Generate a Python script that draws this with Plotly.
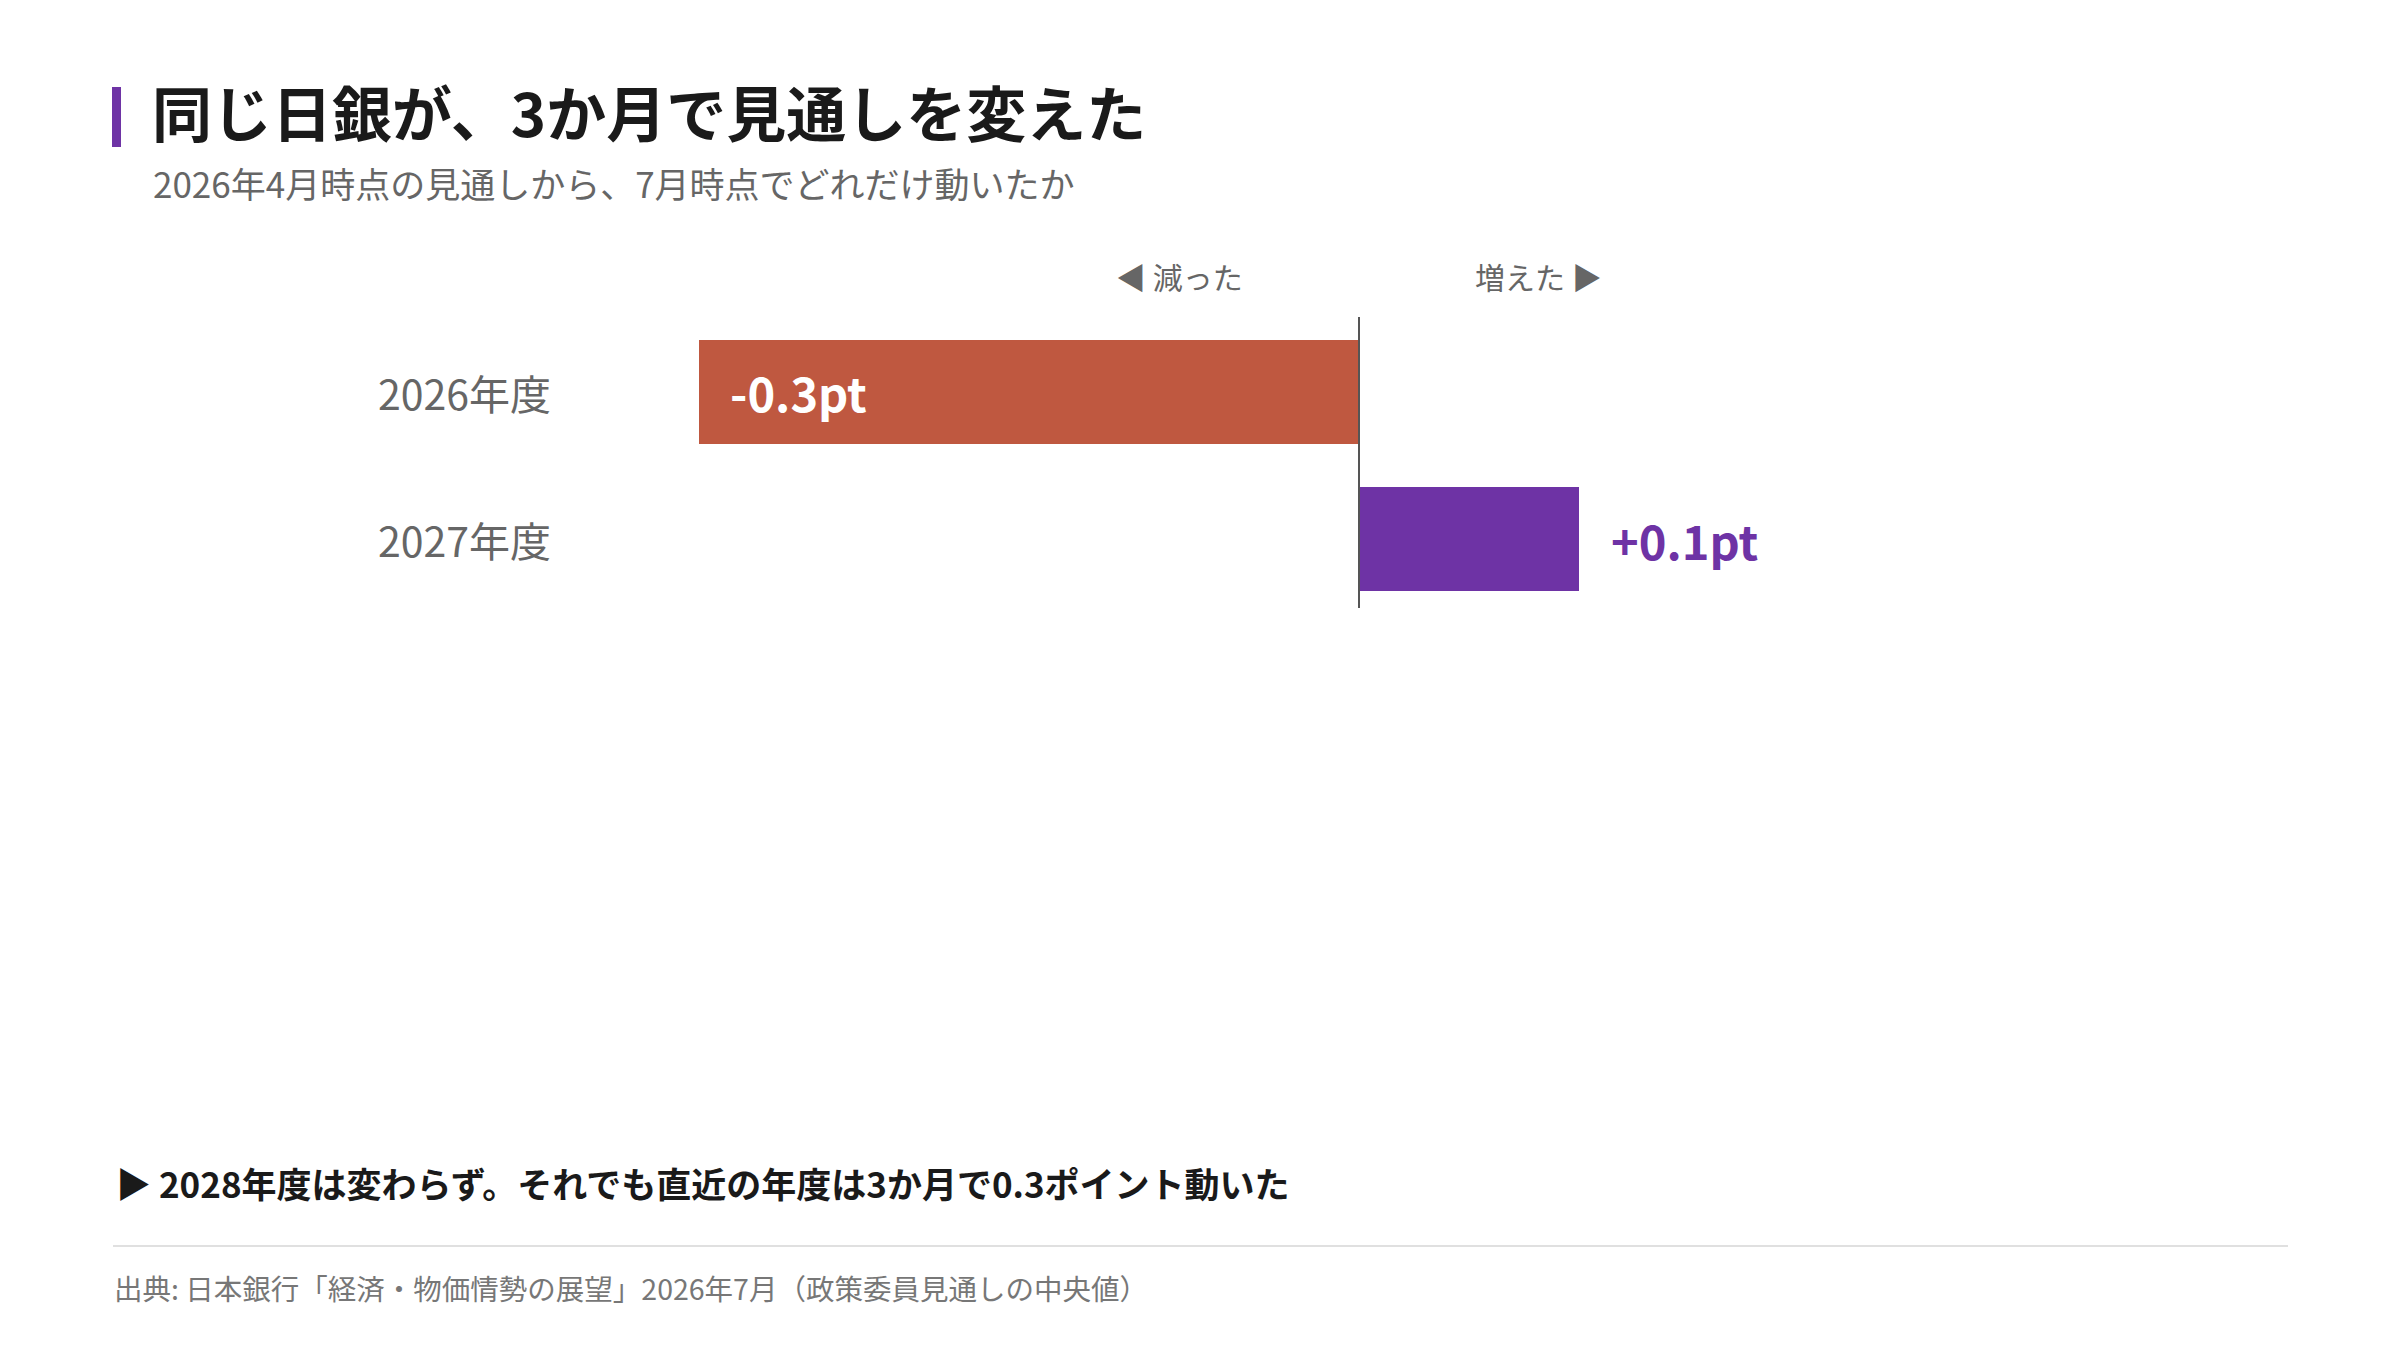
import plotly.graph_objects as go

# ---- data ----
categories = ["2026年度", "2027年度"]
changes = [-0.3, 0.1]
bar_colors = ["#BF5840", "#6E33A5"]
label_colors = ["#FFFFFF", "#6E33A5"]

title = "同じ日銀が、3か月で見通しを変えた"
subtitle = "2026年4月時点の見通しから、7月時点でどれだけ動いたか"
left_dir = "◀ 減った"
right_dir = "増えた ▶"
takeaway = "▶ 2028年度は変わらず。それでも直近の年度は3か月で0.3ポイント動いた"
source = "出典: 日本銀行「経済・物価情勢の展望」2026年7月（政策委員見通しの中央値）"

W, H = 2400, 1350
FONT = "Noto Sans CJK JP"


def px(x):
    return x / W


def py(y):
    return 1 - y / H


fig = go.Figure()
fig.add_trace(go.Bar(
    y=categories, x=changes, orientation="h",
    marker=dict(color=bar_colors, line=dict(width=0)),
    width=0.707, hoverinfo="skip",
))

annotations = []
# category labels
for i, c in enumerate(categories):
    annotations.append(dict(
        x=px(376), xref="paper", y=c, yref="y", text=c, showarrow=False,
        xanchor="left", yanchor="middle",
        font=dict(family=FONT, size=41, color="#666666"),
    ))
# value labels
for i, v in enumerate(changes):
    txt = f"{v:+.1f}pt" if v > 0 else f"{v:.1f}pt"
    annotations.append(dict(
        x=v, xref="x", y=categories[i], yref="y",
        text=txt, showarrow=False, xanchor="left", yanchor="middle",
        xshift=29 if v < 0 else 30,
        font=dict(family=FONT, size=47, color=label_colors[i], weight=700),
    ))
# direction labels
annotations.append(dict(
    x=0, xref="x", y=py(276), yref="paper", text=left_dir, showarrow=False,
    xanchor="right", yanchor="middle", xshift=-114,
    font=dict(family=FONT, size=30, color="#666666"),
))
annotations.append(dict(
    x=0, xref="x", y=py(276), yref="paper", text=right_dir, showarrow=False,
    xanchor="left", yanchor="middle", xshift=114,
    font=dict(family=FONT, size=30, color="#666666"),
))
# title and subtitle
annotations.append(dict(
    x=px(150), xref="paper", y=py(111), yref="paper", text=title,
    showarrow=False, xanchor="left", yanchor="middle",
    font=dict(family=FONT, size=60, color="#1A1A1A", weight=700),
))
annotations.append(dict(
    x=px(151), xref="paper", y=py(183), yref="paper", text=subtitle,
    showarrow=False, xanchor="left", yanchor="middle",
    font=dict(family=FONT, size=35, color="#666666"),
))
# takeaway and source
annotations.append(dict(
    x=px(114), xref="paper", y=py(1182), yref="paper", text=takeaway,
    showarrow=False, xanchor="left", yanchor="middle",
    font=dict(family=FONT, size=35, color="#1A1A1A", weight=700),
))
annotations.append(dict(
    x=px(112), xref="paper", y=py(1287), yref="paper", text=source,
    showarrow=False, xanchor="left", yanchor="middle",
    font=dict(family=FONT, size=28.5, color="#777777"),
))

shapes = [
    # title accent
    dict(type="rect", xref="paper", yref="paper",
         x0=px(112), x1=px(121), y0=py(147), y1=py(87),
         fillcolor="#6E33A5", line=dict(width=0)),
    # zero line
    dict(type="line", xref="x", yref="paper", x0=0, x1=0,
         y0=py(608), y1=py(317), line=dict(color="#555555", width=2)),
    # separator
    dict(type="line", xref="paper", yref="paper",
         x0=px(113), x1=px(2288), y0=py(1246), y1=py(1246),
         line=dict(color="#E0E0E0", width=2)),
]

fig.update_layout(
    width=W, height=H,
    margin=dict(l=0, r=0, t=0, b=0),
    paper_bgcolor="white", plot_bgcolor="white",
    showlegend=False,
    xaxis=dict(range=[-0.4, 0.4], domain=[px(479), px(2239)],
               visible=False, fixedrange=True),
    yaxis=dict(range=[1.5, -0.5], domain=[py(612.5), py(318.5)],
               visible=False, fixedrange=True, type="category"),
    annotations=annotations,
    shapes=shapes,
    font=dict(family=FONT),
)

fig.write_html("out.html", config={"displayModeBar": False},
               post_script="document.body.style.margin='0';")
